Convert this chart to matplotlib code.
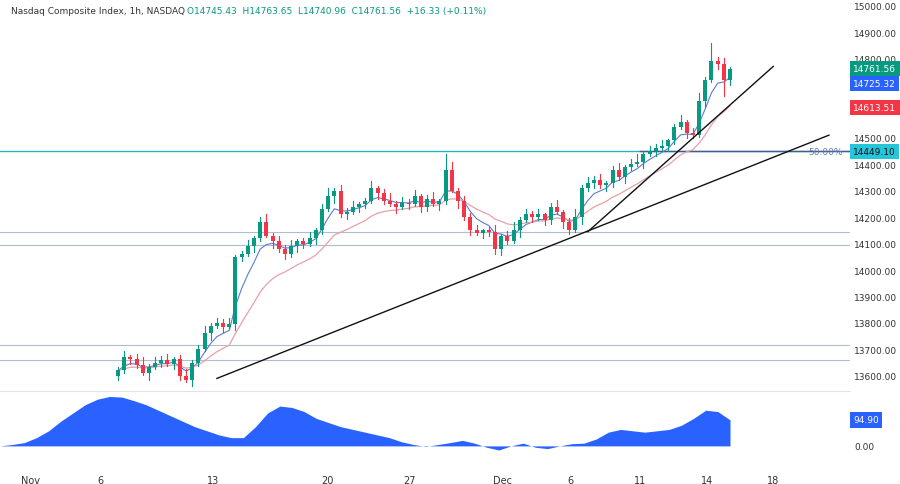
import matplotlib.pyplot as plt
import numpy as np

# hourly closes (compressed), Nasdaq Composite
closes = [13620, 13670, 13665, 13640, 13610, 13635, 13650, 13660, 13645, 13665,
          13600, 13585, 13650, 13700, 13760, 13790, 13800, 13785, 13795, 14050,
          14060, 14090, 14120, 14180, 14130, 14110, 14080, 14060, 14090, 14110,
          14100, 14120, 14150, 14230, 14280, 14300, 14210, 14220, 14240, 14250,
          14260, 14310, 14290, 14260, 14250, 14240, 14255, 14250, 14280, 14240,
          14270, 14250, 14260, 14380, 14300, 14260, 14200, 14150, 14140, 14150,
          14145, 14080, 14130, 14110, 14150, 14190, 14210, 14200, 14210, 14190,
          14240, 14220, 14180, 14150, 14200, 14310, 14330, 14340, 14320, 14330,
          14380, 14350, 14390, 14400, 14410, 14440, 14450, 14460, 14470, 14490,
          14540, 14560, 14520, 14510, 14640, 14720, 14790, 14780, 14720, 14761.56]
first_open = 13600
wick_up = [12, 25, 8, 18, 30, 10, 20, 15, 22, 6]
wick_dn = [15, 8, 22, 12, 6, 25, 10, 18, 9, 20]
spikes = {53: 14440, 96: 14860, 23: 14200}
dips = {98: 14660, 61: 14060, 11: 13575}

osc = [0, 5, 12, 30, 55, 90, 120, 150, 170, 180, 178, 165, 150, 130, 110, 90, 70, 55,
       40, 30, 30, 70, 120, 145, 140, 125, 100, 85, 70, 60, 50, 40, 30, 15, 5, -2,
       5, 12, 20, 10, -5, -15, 0, 10, -5, -10, 0, 8, 10, 25, 50, 60, 55, 50, 55, 60,
       75, 100, 130, 125, 94.9]

hlines_grey = [14145, 14095, 13715, 13660]
fib50 = 14449.10
# trend lines: (bar, price) endpoints
trend1 = [(16, 13590), (115, 14510)]
trend2 = [(76, 14145), (106, 14770)]

price_ticks = [13600, 13700, 13800, 13900, 14000, 14100, 14200, 14300, 14400,
               14500, 14800, 14900, 15000]
tick_labels = ['Nov', '6', '13', '20', '27', 'Dec', '6', '11', '14', '18']
tick_px = [30, 100, 213, 327, 410, 502, 570, 640, 707, 773]

n = len(closes)
c = np.array(closes)
o = np.concatenate([[first_open], c[:-1]])
hi = np.maximum(o, c) + np.array([wick_up[i % 10] for i in range(n)])
lo = np.minimum(o, c) - np.array([wick_dn[i % 10] for i in range(n)])
for k, v in spikes.items():
    hi[k] = v
for k, v in dips.items():
    lo[k] = v

def ema(x, span):
    a = 2 / (span + 1)
    out = [x[0]]
    for v in x[1:]:
        out.append(out[-1] + a * (v - out[-1]))
    return np.array(out)

step = (730 - 118) / (n - 1)
px2x = lambda p: (p - 118) / step
xs = np.arange(n)

fig = plt.figure(figsize=(9, 4.85), dpi=100)
ax = fig.add_axes([0, 1 - 390 / 485, 850 / 900, 390 / 485])
ax2 = fig.add_axes([0, 1 - 465 / 485, 850 / 900, 73 / 485])

up_c, dn_c = '#089981', '#f23645'
for i in range(n):
    col = up_c if c[i] >= o[i] else dn_c
    ax.plot([i, i], [lo[i], hi[i]], color=col, lw=0.8, zorder=3)
    ax.bar(i, max(abs(c[i] - o[i]), 2), bottom=min(o[i], c[i]), width=0.65, color=col, zorder=4)

ax.plot(xs, ema(c, 5), color='#5b7bd6', lw=0.8, zorder=2)
ax.plot(xs, ema(c, 14), color='#e8a0a8', lw=0.9, zorder=2)

for v in hlines_grey:
    ax.axhline(v, color='#b0bcd0', lw=0.8, zorder=1)
ax.axhline(fib50, color='#26b5c5', lw=1.0, zorder=1)
ax.plot([px2x(640), px2x(850)], [fib50, fib50], color='#4a5a90', lw=1.0, zorder=1)
ax.text(px2x(843), fib50, '50.00%', color='#6a7ab0', fontsize=6.5, ha='right', va='center')
for t in (trend1, trend2):
    ax.plot([t[0][0], t[1][0]], [t[0][1], t[1][1]], color='#111111', lw=1.0, zorder=5)

xl = (px2x(0), px2x(850))
ax.set_xlim(*xl)
ax.set_ylim(13550, 15025)
ax.yaxis.tick_right()
ax.set_yticks(price_ticks)
ax.set_yticklabels([f'{v:.2f}' for v in price_ticks])
ax.tick_params(axis='y', length=0, labelsize=6.5, colors='#333333', pad=3)
ax.set_xticks([])
for s in ax.spines.values():
    s.set_visible(False)

def tag(a, y, txt, col, fc='white'):
    a.text(1.004, y, txt, transform=a.get_yaxis_transform(), ha='left', va='center', zorder=10,
           fontsize=6.5, color=fc, bbox=dict(boxstyle='square,pad=0.35', fc=col, ec='none'), clip_on=False)

tag(ax, 14761.56, '14761.56', '#089981')
tag(ax, 14705, '14725.32', '#2962ff')
tag(ax, 14613.51, '14613.51', '#f23645')
tag(ax, fib50, '14449.10', '#26c6da', '#111111')

ox = np.linspace(px2x(0), n - 1, len(osc))
ax2.fill_between(ox, 0, osc, color='#2962ff', lw=0)
ax2.set_xlim(*xl)
ax2.set_ylim(-66, 200)
ax2.yaxis.tick_right()
ax2.set_yticks([0])
ax2.set_yticklabels(['0.00'])
ax2.tick_params(axis='y', length=0, labelsize=6.5, colors='#333333', pad=3)
tag(ax2, 94.9, '94.90', '#2962ff')
ax2.set_xticks([px2x(p) for p in tick_px])
ax2.set_xticklabels(tick_labels)
ax2.tick_params(axis='x', length=0, labelsize=7, colors='#333333', pad=8)
for s in ax2.spines.values():
    s.set_visible(False)
ax2.plot([xl[0], xl[1]], [200, 200], color='#e0e3eb', lw=0.8, clip_on=False)

fig.text(0.012, 0.985, 'Nasdaq Composite Index, 1h, NASDAQ', fontsize=6.5, color='#333333', va='top')
fig.text(0.208, 0.985, 'O14745.43  H14763.65  L14740.96  C14761.56  +16.33 (+0.11%)',
         fontsize=6.5, color='#089981', va='top')
fig.savefig('out.png', dpi=100)
